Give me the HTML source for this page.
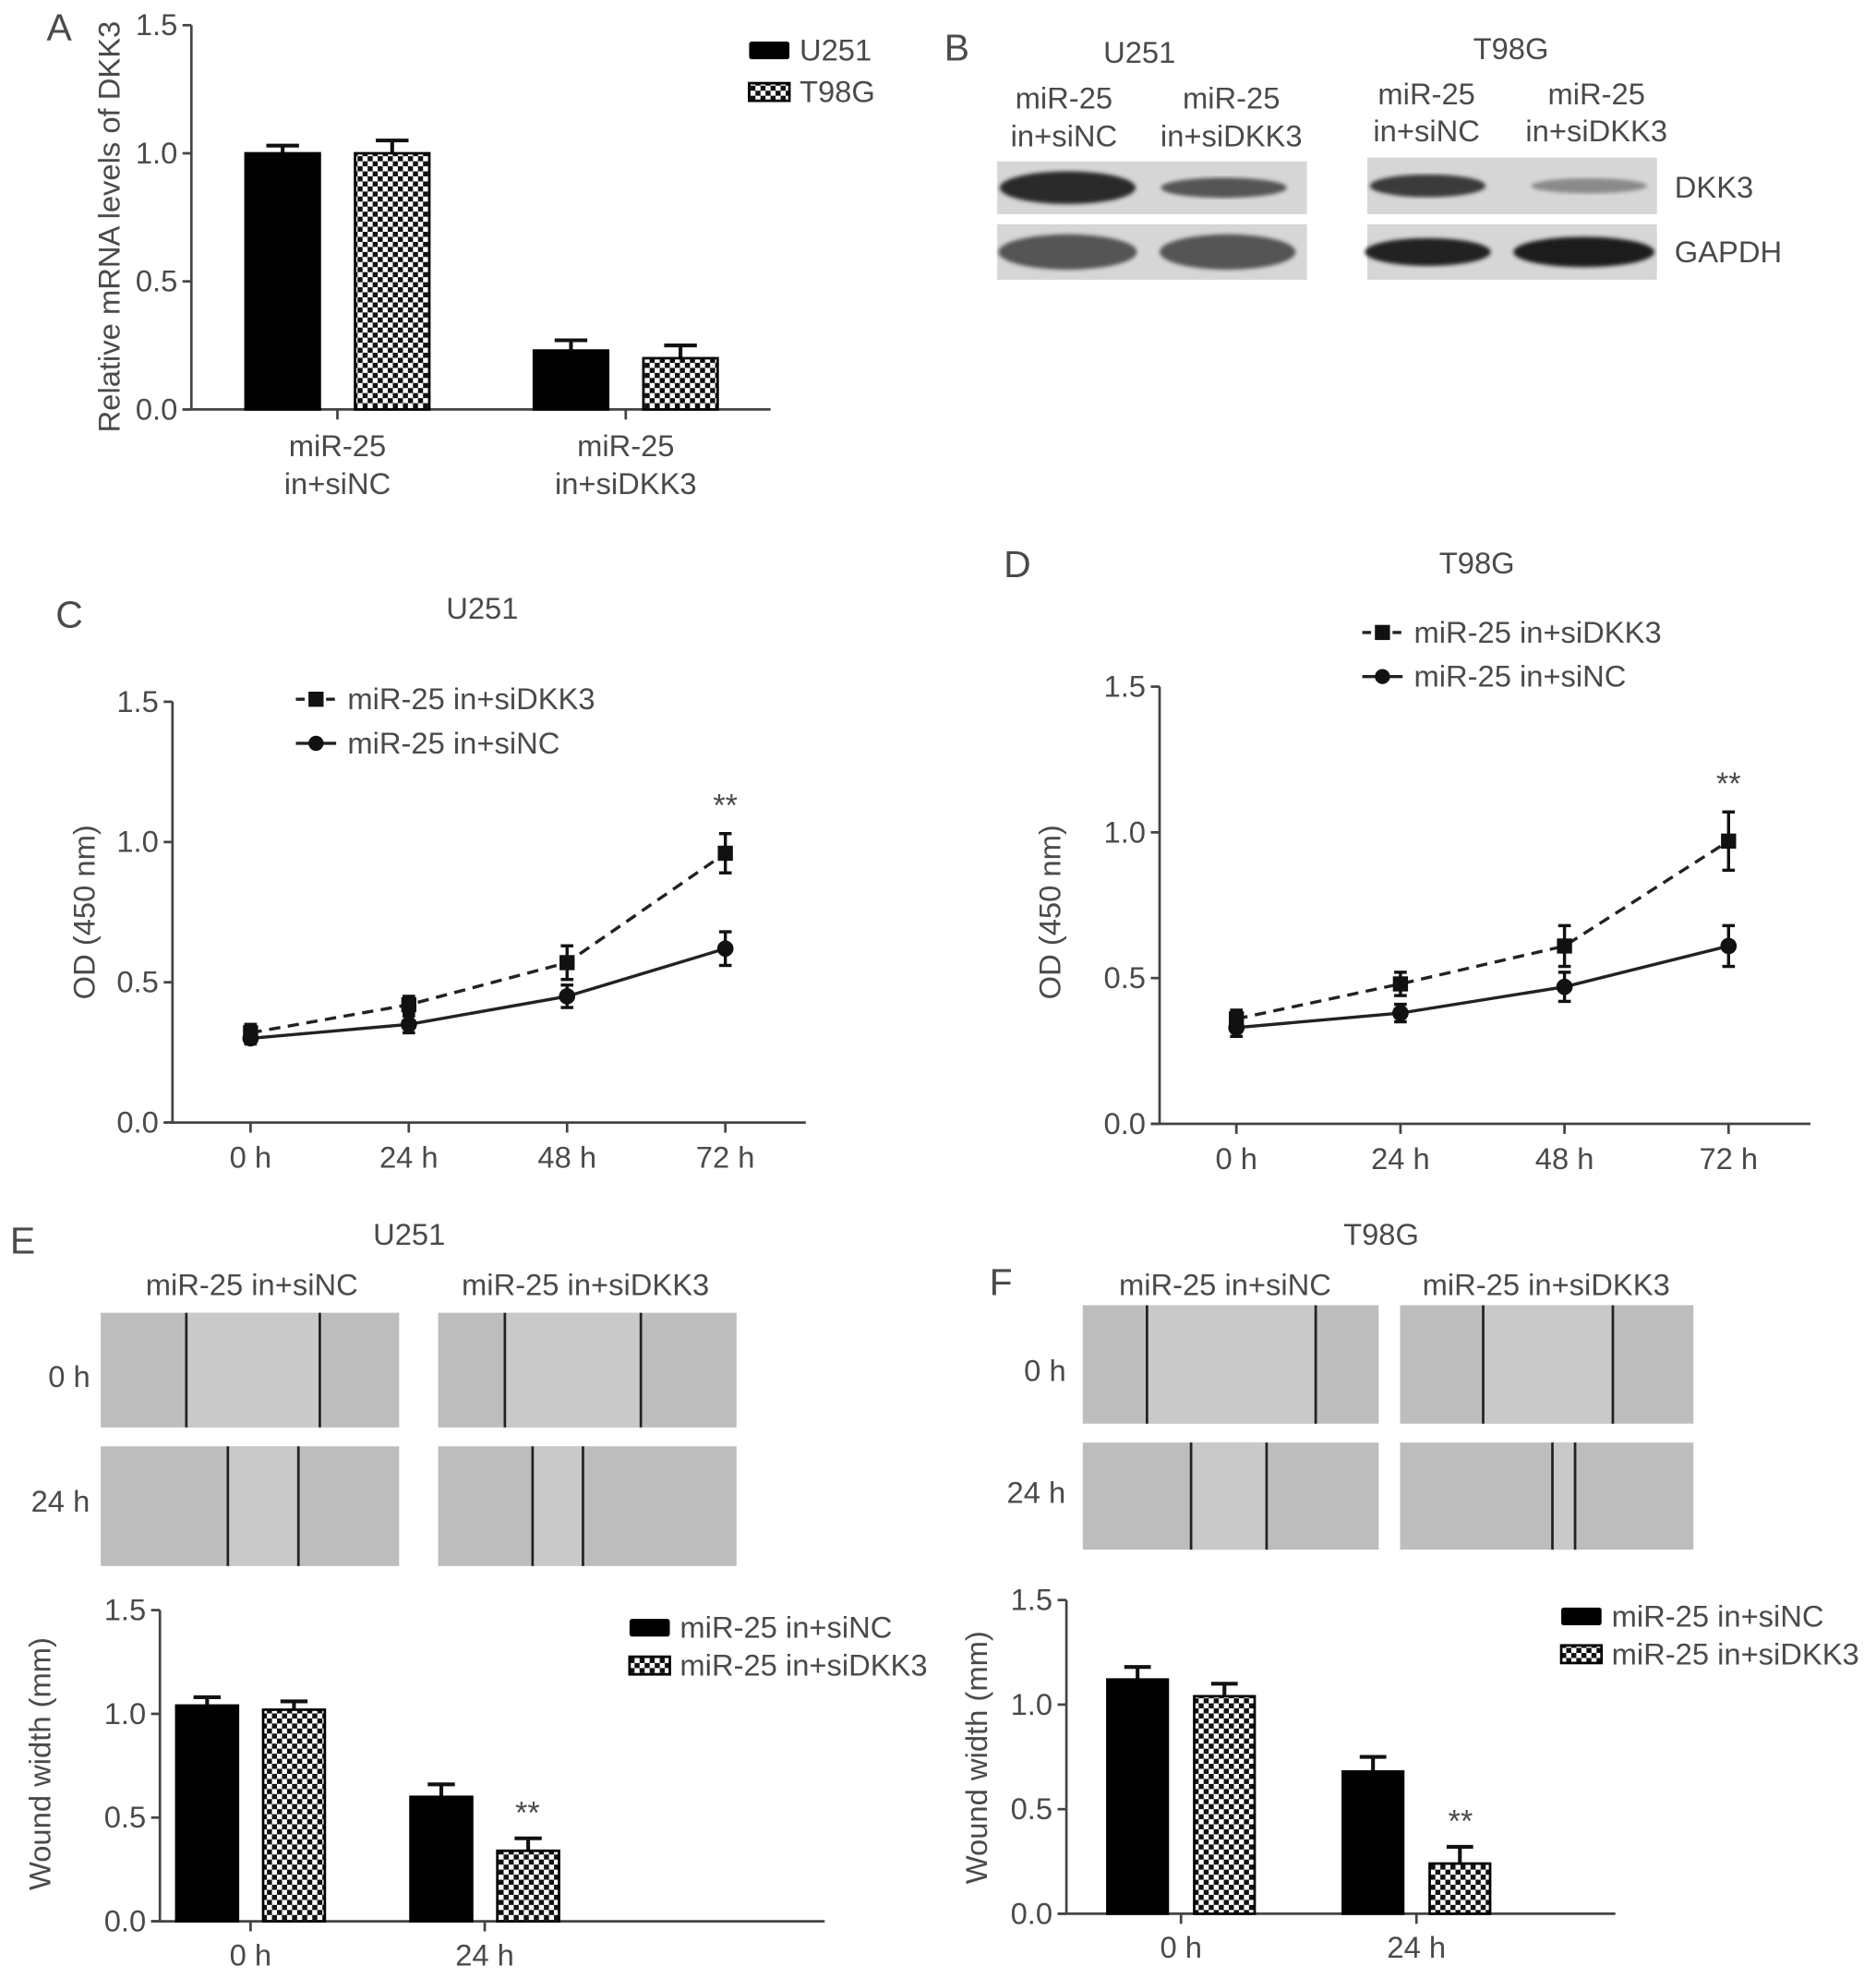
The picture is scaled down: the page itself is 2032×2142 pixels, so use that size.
<!DOCTYPE html>
<html><head><meta charset="utf-8"><style>
html,body{margin:0;padding:0;background:#fff;}
svg{display:block;}
text{font-family:"Liberation Sans",sans-serif;fill:#4a4a4a;}
</style></head><body>
<svg id="fig" width="2032" height="2142" viewBox="0 0 1490 1570" preserveAspectRatio="none" xmlns="http://www.w3.org/2000/svg">
<defs>
<pattern id="chk" width="8" height="8" patternUnits="userSpaceOnUse">
<rect width="8" height="8" fill="#fff"/><rect width="4" height="4" fill="#111"/><rect x="4" y="4" width="4" height="4" fill="#111"/>
</pattern>
<filter id="blur2"><feGaussianBlur stdDeviation="1.5"/></filter>
</defs>
<g id="root"></g>
</svg>
<script>
// Panel A data
const aCats=["miR-25|in+siNC","miR-25|in+siDKK3"];
const aU251=[1.0,0.23];
const aU251Err=[0.03,0.04];
const aT98G=[1.0,0.20];
const aT98GErr=[0.05,0.05];
const yTicks=["0.0","0.5","1.0","1.5"];
// Panel C data
const timeCats=["0 h","24 h","48 h","72 h"];
const cDKK3=[0.32,0.42,0.57,0.96];
const cDKK3Err=[0.03,0.03,0.06,0.07];
const cNC=[0.30,0.35,0.45,0.62];
const cNCErr=[0.02,0.03,0.04,0.06];
// Panel D data
const dDKK3=[0.36,0.48,0.61,0.97];
const dDKK3Err=[0.03,0.04,0.07,0.10];
const dNC=[0.33,0.38,0.47,0.61];
const dNCErr=[0.03,0.03,0.05,0.07];
// Panel E data
const woundCats=["0 h","24 h"];
const eNC=[1.04,0.60];
const eNCErr=[0.04,0.06];
const eDKK3=[1.02,0.34];
const eDKK3Err=[0.04,0.06];
// Panel F data
const fNC=[1.12,0.68];
const fNCErr=[0.06,0.07];
const fDKK3=[1.04,0.24];
const fDKK3Err=[0.06,0.08];

const FS=24;
const NS="http://www.w3.org/2000/svg";
const root=document.getElementById('root');
function el(tag,attrs,parent,txt){const e=document.createElementNS(NS,tag);for(const k in attrs)e.setAttribute(k,attrs[k]);if(txt!==undefined)e.textContent=txt;(parent||root).appendChild(e);return e;}
function txt(x,y,s,size,parent,anchor,name){const t=el('text',{x:x,y:y,'font-size':size,'text-anchor':anchor||'middle'},parent,s);

return t;}
function axisY(g,ax,y0,y15,x1,title,tx,tcy){
  const sy=v=>y0+(y15-y0)*v/1.5;
  el('line',{x1:ax,y1:y15,x2:ax,y2:y0,stroke:'#444','stroke-width':2},g);
  el('line',{x1:ax-7,y1:y0,x2:x1,y2:y0,stroke:'#444','stroke-width':2},g);
  yTicks.forEach(t=>{const y=sy(parseFloat(t));el('line',{x1:ax-7,y1:y,x2:ax,y2:y,stroke:'#444','stroke-width':2},g);
    txt(ax-11,y+8,t,FS,g,'end','y-tick-label');});
  const tt=txt(tx,tcy,title,FS,g,'middle','y-axis-title');tt.setAttribute('transform','rotate(-90 '+tx+' '+tcy+')');
  return sy;
}
function errBar(g,x,yTop,yEnd,hw){el('line',{x1:x,y1:yTop,x2:x,y2:yEnd,stroke:'#111','stroke-width':3},g);el('line',{x1:x-hw,y1:yEnd,x2:x+hw,y2:yEnd,stroke:'#111','stroke-width':3},g);}
function barChart(name,cfg,cats,s1,e1,s2,e2){
  const g=el('g',{},root);
  const sy=axisY(g,cfg.ax,cfg.y0,cfg.y15,cfg.x1,cfg.title,cfg.tx,cfg.tcy);
  cats.forEach((c,i)=>{
    const cx=cfg.centers[i];
    [[s1,e1,'#000',-1],[s2,e2,'url(#chk)',1]].forEach(([s,e,f,side],k)=>{
      const bx=side<0?cx-cfg.gap/2-cfg.bw:cx+cfg.gap/2;
      const yv=sy(s[i]);
      errBar(g,bx+cfg.bw/2,yv,sy(s[i]+e[i]),cfg.bw*0.22);
      const r=el('rect',{x:bx,y:yv,width:cfg.bw,height:cfg.y0-yv,fill:f,stroke:'#000','stroke-width':2},g);
      
      
    });
    el('line',{x1:cx,y1:cfg.y0,x2:cx,y2:cfg.y0+8,stroke:'#444','stroke-width':2},g);
    const parts=c.split('|');
    parts.forEach((p,j)=>txt(cx,cfg.y0+cfg.lab0+j*30,p,FS,g,'middle','x-tick-label'));
  });
  return sy;
}
function lineChart(name,cfg,s1,e1,s2,e2){
  const g=el('g',{},root);
  const sy=axisY(g,cfg.ax,cfg.y0,cfg.y15,cfg.x1,'OD (450 nm)',cfg.tx,cfg.tcy);
  const sx=i=>cfg.xs0+i*cfg.dx;
  timeCats.forEach((c,i)=>{el('line',{x1:sx(i),y1:cfg.y0,x2:sx(i),y2:cfg.y0+8,stroke:'#444','stroke-width':2},g);txt(sx(i),cfg.y0+36,c,FS,g,'middle','x-tick-label');});
  [[s2,e2,'',false],[s1,e1,'9 6',true]].forEach(([s,e,dash,sq])=>{
    const pts=s.map((v,i)=>sx(i)+','+sy(v)).join(' ');
    const pl=el('polyline',{points:pts,fill:'none',stroke:'#222','stroke-width':2.5,'stroke-dasharray':dash},g);
    
    
    s.forEach((v,i)=>{
      el('line',{x1:sx(i),y1:sy(v-e[i]),x2:sx(i),y2:sy(v+e[i]),stroke:'#111','stroke-width':2.5},g);
      el('line',{x1:sx(i)-5,y1:sy(v-e[i]),x2:sx(i)+5,y2:sy(v-e[i]),stroke:'#111','stroke-width':2.5},g);
      el('line',{x1:sx(i)-5,y1:sy(v+e[i]),x2:sx(i)+5,y2:sy(v+e[i]),stroke:'#111','stroke-width':2.5},g);
      const m=sq?el('rect',{x:sx(i)-6,y:sy(v)-6,width:12,height:12,fill:'#111'},g):el('circle',{cx:sx(i),cy:sy(v),r:6.5,fill:'#111'},g);
      
      
    });
  });
  txt(sx(3),sy(s1[3]+e1[3])-14,'**',25,g,'middle','significance-mark');
  const lg=el('g',{},g);
  el('line',{x1:cfg.lx,y1:cfg.ly,x2:cfg.lx+32,y2:cfg.ly,stroke:'#222','stroke-width':2.5,'stroke-dasharray':'7 5'},lg);
  el('rect',{x:cfg.lx+10,y:cfg.ly-6,width:12,height:12,fill:'#111'},lg);
  txt(cfg.lx+41,cfg.ly+8,'miR-25 in+siDKK3',FS,lg,'start','legend-entry');
  el('line',{x1:cfg.lx,y1:cfg.ly+35,x2:cfg.lx+32,y2:cfg.ly+35,stroke:'#222','stroke-width':2.5},lg);
  el('circle',{cx:cfg.lx+16,cy:cfg.ly+35,r:6,fill:'#111'},lg);
  txt(cfg.lx+41,cfg.ly+43,'miR-25 in+siNC',FS,lg,'start','legend-entry');
}
function legendBars(x,y,l1,l2,dy){
  const lg=el('g',{},root);
  el('rect',{x:x,y:y-7,width:32,height:14,fill:'#000',rx:2},lg);
  txt(x+40,y+8,l1,FS,lg,'start','legend-entry');
  el('rect',{x:x,y:y+dy-7,width:32,height:14,fill:'url(#chk)',stroke:'#000','stroke-width':2},lg);
  txt(x+40,y+dy+8,l2,FS,lg,'start','legend-entry');
}
function letter(x,y,s){txt(x,y,s,30,root,'middle','panel-label-'+s.toLowerCase());}

letter(47,32,'A');
barChart('chart-a-mrna',{ax:152,y0:325,y15:20,x1:612,title:'Relative mRNA levels of DKK3',tx:95,tcy:180,centers:[268,497],bw:59,gap:28,lab0:37},aCats,aU251,aU251Err,aT98G,aT98GErr);
legendBars(595,40,'U251','T98G',33);

letter(760,48,'B');
txt(905,50,'U251',FS,root,'middle','cell-line-title');
txt(1200,47,'T98G',FS,root,'middle','cell-line-title');
[[845,'in+siNC',86,116],[978,'in+siDKK3',86,116],[1133,'in+siNC',83,112],[1268,'in+siDKK3',83,112]].forEach(([x,l,y1,y2])=>{txt(x,y1,'miR-25',FS,root,'middle','lane-label');txt(x,y2,l,FS,root,'middle','lane-label');});
function blot(x,y,w,h,bands,name){
  const g=el('g',{},root);
  el('rect',{x:x,y:y,width:w,height:h,fill:'#d6d6d6'},g);
  bands.forEach(([cx,rw,rh,c])=>el('ellipse',{cx:cx,cy:y+h/2,rx:rw,ry:rh,fill:c,filter:'url(#blur2)'},g));
}
blot(792,128,246,42,[[848,54,13,'#2c2c2c'],[972,50,8,'#555']],'blot-u251-dkk3');
blot(792,178,246,44,[[848,55,14,'#555'],[975,54,14,'#555']],'blot-u251-gapdh');
blot(1086,125,230,45,[[1134,46,9,'#3a3a3a'],[1262,46,6,'#8a8a8a']],'blot-t98g-dkk3');
blot(1086,178,230,44,[[1134,50,11,'#222'],[1258,56,12,'#1a1a1a']],'blot-t98g-gapdh');
txt(1330,157,'DKK3',FS,root,'start','protein-label');
txt(1330,208,'GAPDH',FS,root,'start','protein-label');

letter(55,498,'C');
txt(383,491,'U251',FS,root,'middle','chart-title');
lineChart('chart-c-od-u251',{ax:137,y0:891,y15:557,x1:640,xs0:199,dx:125.7,tx:75,tcy:724,lx:235,ly:555},cDKK3,cDKK3Err,cNC,cNCErr);
letter(808,458,'D');
txt(1173,455,'T98G',FS,root,'middle','chart-title');
lineChart('chart-d-od-t98g',{ax:921,y0:892,y15:545,x1:1438,xs0:982,dx:130.3,tx:842,tcy:724,lx:1082,ly:502},dDKK3,dDKK3Err,dNC,dNCErr);

function wound(x,y,w,h,l1,l2,name){
  const g=el('g',{},root);
  el('rect',{x:x,y:y,width:w,height:h,fill:'#bdbdbd'},g);
  el('rect',{x:l1,y:y,width:l2-l1,height:h,fill:'#c9c9c9'},g);
  el('line',{x1:l1,y1:y,x2:l1,y2:y+h,stroke:'#222','stroke-width':2},g);
  el('line',{x1:l2,y1:y,x2:l2,y2:y+h,stroke:'#222','stroke-width':2},g);
}
letter(18,995,'E');
txt(325,988,'U251',FS,root,'middle','chart-title');
txt(200,1028,'miR-25 in+siNC',FS,root,'middle','column-label');
txt(465,1028,'miR-25 in+siDKK3',FS,root,'middle','column-label');
txt(55,1101,'0 h',FS,root,'middle','row-label');
txt(48,1200,'24 h',FS,root,'middle','row-label');
wound(80,1042,237,91,148,254,'wound-u251-nc-0h');
wound(348,1042,237,91,401,509,'wound-u251-dkk3-0h');
wound(80,1148,237,95,181,237,'wound-u251-nc-24h');
wound(348,1148,237,95,423,463,'wound-u251-dkk3-24h');

letter(795,1028,'F');
txt(1097,988,'T98G',FS,root,'middle','chart-title');
txt(973,1028,'miR-25 in+siNC',FS,root,'middle','column-label');
txt(1228,1028,'miR-25 in+siDKK3',FS,root,'middle','column-label');
txt(830,1096,'0 h',FS,root,'middle','row-label');
txt(823,1193,'24 h',FS,root,'middle','row-label');
wound(860,1036,235,94,911,1045,'wound-t98g-nc-0h');
wound(1112,1036,233,94,1178,1281,'wound-t98g-dkk3-0h');
wound(860,1145,235,85,946,1006,'wound-t98g-nc-24h');
wound(1112,1145,233,85,1233,1251,'wound-t98g-dkk3-24h');

const syE=barChart('chart-e-wound-u251',{ax:127,y0:1525,y15:1278,x1:655,title:'Wound width (mm)',tx:40,tcy:1400,centers:[199,385],bw:49,gap:20,lab0:35},woundCats,eNC,eNCErr,eDKK3,eDKK3Err);
txt(419,syE(eDKK3[1]+eDKK3Err[1])-12,'**',25,root,'middle','significance-mark');
legendBars(500,1292,'miR-25 in+siNC','miR-25 in+siDKK3',30);
const syF=barChart('chart-f-wound-t98g',{ax:847,y0:1519,y15:1270,x1:1283,title:'Wound width (mm)',tx:784,tcy:1395,centers:[938,1125],bw:48,gap:21,lab0:35},woundCats,fNC,fNCErr,fDKK3,fDKK3Err);
txt(1160,syF(fDKK3[1]+fDKK3Err[1])-12,'**',25,root,'middle','significance-mark');
legendBars(1240,1283,'miR-25 in+siNC','miR-25 in+siDKK3',30);
</script>
</body></html>
